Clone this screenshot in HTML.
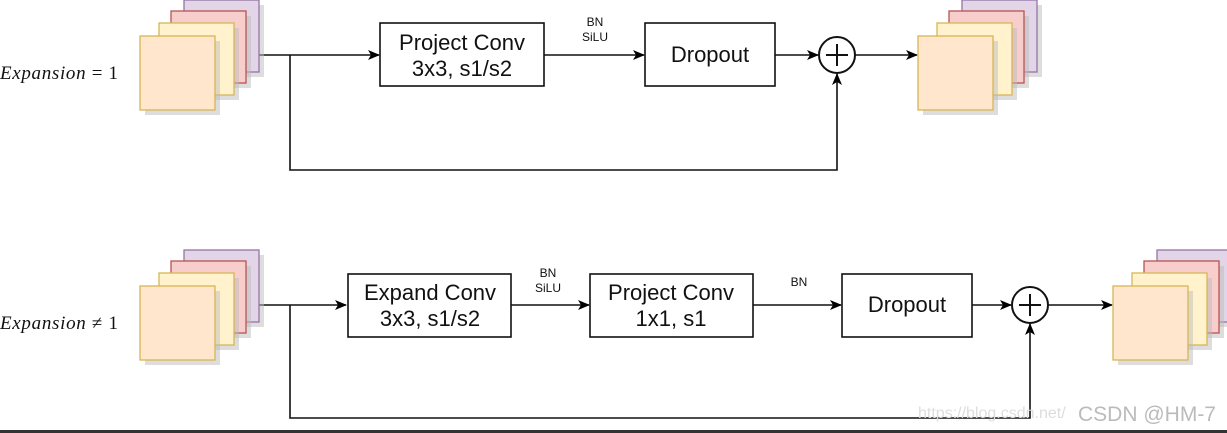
<!DOCTYPE html><html><head><style>body{margin:0;background:#fff}svg{display:block}</style></head><body>
<svg width="1227" height="433" xmlns="http://www.w3.org/2000/svg" font-family="Liberation Sans, sans-serif">
<defs>
<marker id="a" markerWidth="12" markerHeight="12" refX="11" refY="6" orient="auto" markerUnits="userSpaceOnUse"><path d="M0,1 L12,6 L0,11 L3,6z" fill="#000"/></marker>
<g id="stk">
<rect x="46" y="-34" width="75" height="72" fill="#bbb" opacity=".5" transform="translate(3,3)"/>
<rect x="44" y="-36" width="75" height="72" fill="#e1d5e7" stroke="#9673a6" stroke-width="1.3"/>
<rect x="33" y="-23" width="75" height="72" fill="#bbb" opacity=".5" transform="translate(3,3)"/>
<rect x="31" y="-25" width="75" height="72" fill="#f8cecc" stroke="#b85450" stroke-width="1.3"/>
<rect x="21" y="-11" width="75" height="72" fill="#bbb" opacity=".5" transform="translate(3,3)"/>
<rect x="19" y="-13" width="75" height="72" fill="#fff2cc" stroke="#d6b656" stroke-width="1.3"/>
<rect x="2" y="2" width="75" height="74" fill="#bbb" opacity=".5" transform="translate(3,3)"/>
<rect x="0" y="0" width="75" height="74" fill="#ffe6cc" stroke="#d6b656" stroke-width="1.3"/>
</g>
</defs>
<g fill="none" stroke="#111" stroke-width="1.6">
<path d="M259 55H379" marker-end="url(#a)"/>
<path d="M290 55V170H837V74" marker-end="url(#a)"/>
<path d="M544 55H644" marker-end="url(#a)"/>
<path d="M775 55H818" marker-end="url(#a)"/>
<path d="M855 55H917" marker-end="url(#a)"/>
<rect x="380" y="23" width="164" height="63"/>
<rect x="645" y="23" width="130" height="63"/>
<circle cx="837" cy="55" r="18" stroke-width="2"/>
<path d="M826 55H848M837 44V66" stroke-width="2"/>
<path d="M259 305H346" marker-end="url(#a)"/>
<path d="M290 305V418H1030V324" marker-end="url(#a)"/>
<path d="M511 305H589" marker-end="url(#a)"/>
<path d="M753 305H841" marker-end="url(#a)"/>
<path d="M972 305H1011" marker-end="url(#a)"/>
<path d="M1048 305H1112" marker-end="url(#a)"/>
<rect x="348" y="274" width="163" height="63"/>
<rect x="590" y="274" width="163" height="63"/>
<rect x="842" y="274" width="130" height="63"/>
<circle cx="1030" cy="305" r="18" stroke-width="2"/>
<path d="M1019 305H1041M1030 294V316" stroke-width="2"/>
</g>
<use href="#stk" x="140" y="36"/>
<use href="#stk" x="918" y="36"/>
<use href="#stk" x="140" y="286"/>
<use href="#stk" x="1113" y="286"/>
<g font-size="22" text-anchor="middle" fill="#111">
<text x="462" y="50">Project Conv</text><text x="462" y="76">3x3, s1/s2</text>
<text x="710" y="62">Dropout</text>
<text x="430" y="300">Expand Conv</text><text x="430" y="326">3x3, s1/s2</text>
<text x="671" y="300">Project Conv</text><text x="671" y="326">1x1, s1</text>
<text x="907" y="312">Dropout</text>
</g>
<g font-size="12" text-anchor="middle" fill="#111">
<text x="595" y="26">BN</text><text x="595" y="41">SiLU</text>
<text x="548" y="277">BN</text><text x="548" y="292">SiLU</text>
<text x="799" y="286">BN</text>
</g>
<g font-family="Liberation Serif, serif" font-size="19" fill="#111">
<text x="0" y="79" textLength="118"><tspan font-style="italic">Expansion</tspan> = 1</text>
<text x="0" y="329" textLength="118"><tspan font-style="italic">Expansion</tspan> ≠ 1</text>
</g>
<text x="918" y="418" font-size="16" fill="#ddd">https://blog.csdn.net/</text>
<text x="1078" y="421" font-size="21" fill="#bbb">CSDN @HM-7</text>
<rect x="0" y="430" width="1227" height="3" fill="#333"/>
</svg>
</body></html>
